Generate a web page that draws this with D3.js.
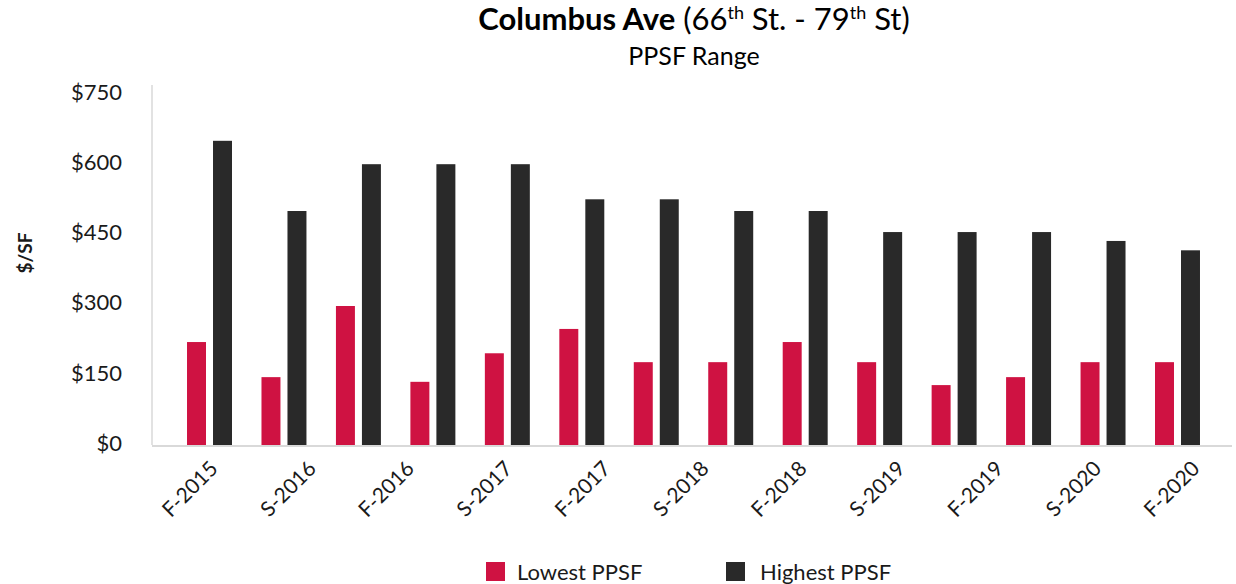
<!DOCTYPE html>
<html>
<head>
<meta charset="utf-8">
<script src="https://cdn.jsdelivr.net/npm/d3@7"></script>
<style>
  body { margin: 0; background: #fff; }
  svg { font-family: Lato, "Open Sans", sans-serif; }
</style>
</head>
<body>
<svg id="chart" width="1236" height="584"></svg>
<script>
// x labels shown under the axis
var periodLabels = ["F-2015", "S-2016", "F-2016", "S-2017", "F-2017", "S-2018",
                    "F-2018", "S-2019", "F-2019", "S-2020", "F-2020"];
// bar groups (14 pairs drawn in the chart)
var barGroups = ["1", "2", "3", "4", "5", "6", "7", "8", "9", "10", "11", "12", "13", "14"];
var lowestPPSF  = [220, 145, 297, 135, 196, 248, 177, 177, 220, 177, 128, 145, 177, 177];
var highestPPSF = [650, 500, 600, 600, 600, 525, 525, 500, 500, 455, 455, 455, 436, 416];
var yTicks = [0, 150, 300, 450, 600, 750];
var seriesNames = ["Lowest PPSF", "Highest PPSF"];
var seriesColors = ["#cf1242", "#292929"];

var svg = d3.select("#chart");

var x0 = 152, x1 = 1232, yBase = 445;

var y = d3.scaleLinear().domain([0, 750]).range([yBase, 94]);

// bars
var xGroup = d3.scaleBand().domain(barGroups).range([155, 1232])
    .paddingInner(0.396).paddingOuter(0.43);
var xSeries = d3.scaleBand().domain(seriesNames).range([0, xGroup.bandwidth()])
    .paddingInner(0.27);

// labels
var xLabel = d3.scaleBand().domain(periodLabels).range([x0, x1]);

var data = barGroups.map(function(g, i) {
  return {group: g, values: [lowestPPSF[i], highestPPSF[i]]};
});

var groups = svg.selectAll("g.grp").data(data).enter().append("g")
    .attr("class", "grp")
    .attr("transform", function(d) { return "translate(" + xGroup(d.group) + ",0)"; });

groups.selectAll("rect").data(function(d) {
    return d.values.map(function(v, j) { return {name: seriesNames[j], v: v, j: j}; });
  }).enter().append("rect")
    .attr("x", function(d) { return xSeries(d.name); })
    .attr("width", xSeries.bandwidth())
    .attr("y", function(d) { return y(d.v); })
    .attr("height", function(d) { return yBase - y(d.v); })
    .attr("fill", function(d) { return seriesColors[d.j]; });

// y axis line + baseline
svg.append("line")
    .attr("x1", x0).attr("x2", x0)
    .attr("y1", 85).attr("y2", yBase)
    .attr("stroke", "#d9d9d9").attr("stroke-width", 1.5);

svg.append("line")
    .attr("x1", x0).attr("x2", x1)
    .attr("y1", yBase + 1).attr("y2", yBase + 1)
    .attr("stroke", "#d9d9d9").attr("stroke-width", 2);

// y tick labels
svg.append("g").selectAll("text").data(yTicks).enter().append("text")
    .attr("x", 122)
    .attr("y", function(d) { return y(d) - 2; })
    .attr("dy", "0.35em")
    .attr("text-anchor", "end")
    .style("font-size", "22px")
    .style("fill", "#1a1a1a")
    .text(function(d) { return "$" + d; });

// x labels
svg.append("g").selectAll("text").data(periodLabels).enter().append("text")
    .attr("transform", function(d) {
      return "translate(" + (xLabel(d) + xLabel.bandwidth() / 2 + 18) + ",470) rotate(-45)";
    })
    .attr("text-anchor", "end")
    .style("font-size", "21px")
    .style("fill", "#1a1a1a")
    .text(function(d) { return d; });

// y axis title
svg.append("text")
    .attr("transform", "translate(32,253) rotate(-90)")
    .attr("text-anchor", "middle")
    .style("font-size", "19px")
    .style("font-weight", "bold")
    .style("fill", "#1a1a1a")
    .text("$/SF");

// title
var title = svg.append("text")
    .attr("x", 694).attr("y", 30)
    .attr("text-anchor", "middle")
    .style("font-size", "31px")
    .style("fill", "#000");
title.append("tspan").style("font-weight", "bold").text("Columbus Ave");
title.append("tspan").text(" (66");
title.append("tspan").attr("dy", -11).style("font-size", "18px").text("th");
title.append("tspan").attr("dy", 11).text(" St. - 79");
title.append("tspan").attr("dy", -11).style("font-size", "18px").text("th");
title.append("tspan").attr("dy", 11).text(" St)");

svg.append("text")
    .attr("x", 694).attr("y", 65)
    .attr("text-anchor", "middle")
    .style("font-size", "25px")
    .style("fill", "#000")
    .text("PPSF Range");

// legend
var legendX = [486, 726];
var legend = svg.selectAll("g.leg").data(seriesNames).enter().append("g")
    .attr("class", "leg")
    .attr("transform", function(d, i) { return "translate(" + legendX[i] + ",562)"; });
legend.append("rect")
    .attr("width", 19).attr("height", 19)
    .attr("fill", function(d, i) { return seriesColors[i]; });
legend.append("text")
    .attr("x", function(d, i) { return i === 0 ? 31 : 34; })
    .attr("y", 18)
    .style("font-size", "22px")
    .style("fill", "#1a1a1a")
    .text(function(d) { return d; });
</script>
</body>
</html>
